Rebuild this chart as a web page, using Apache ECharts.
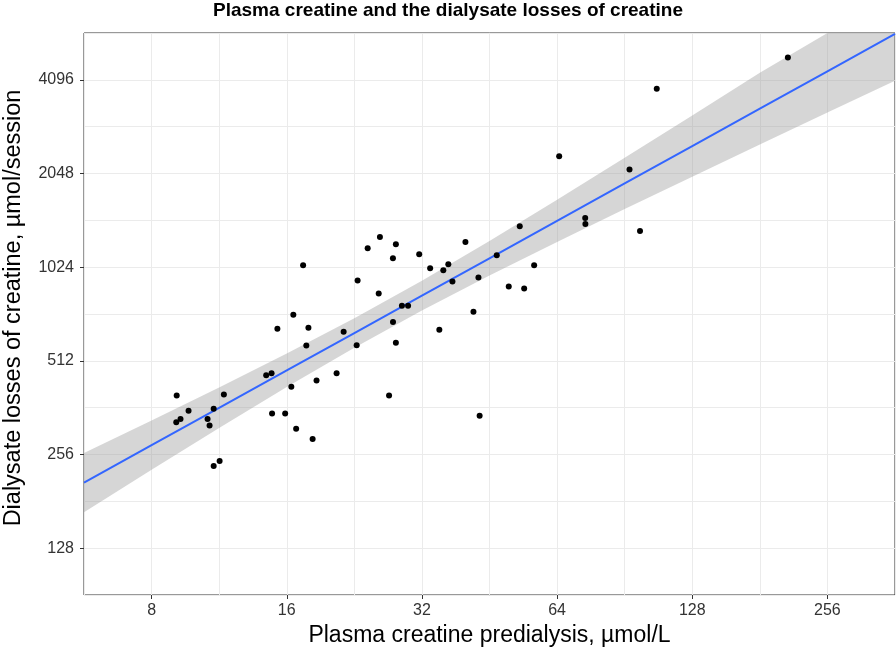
<!DOCTYPE html>
<html>
<head>
<meta charset="utf-8">
<script src="https://cdn.jsdelivr.net/npm/echarts@6/dist/echarts.min.js"></script>
<style>
html,body{margin:0;padding:0;background:#fff;}
#chart{width:896px;height:657px;}
</style>
</head>
<body>
<div id="chart"></div>
<script>
// Tick labels (log2 scale on both axes)
const xTickVals = [8, 16, 32, 64, 128, 256];
const yTickVals = [128, 256, 512, 1024, 2048, 4096];

// Observed data: plasma creatine predialysis (µmol/L) and dialysate losses (µmol/session)
const plasma = [9.10, 9.08, 9.28, 9.67, 10.66, 10.77, 11.0, 11.59, 11.0, 11.34,
  14.40, 14.80, 16.38, 14.84, 15.87, 16.79, 18.27, 18.64, 20.66, 15.25,
  16.55, 17.40, 17.88, 17.69, 21.42, 22.90, 23.01, 24.23, 25.80, 28.00,
  27.58, 25.64, 28.88, 29.81, 27.59, 28.00, 27.04, 31.56, 33.38, 35.71,
  36.64, 37.42, 34.99, 40.0, 42.76, 46.97, 52.85, 56.90, 49.95, 54.06,
  41.68, 43.02, 64.69, 73.93, 74.0, 92.79, 97.92, 106.7, 209.0];
const losses = [396, 325, 333, 354, 333, 317, 359, 399, 235, 244,
  460, 467, 423, 347, 347, 310, 287, 443, 467, 649,
  720, 1038, 654, 574, 635, 575, 928, 1177, 1280, 1213,
  1093, 842, 770, 770, 683, 585, 396, 1126, 1015, 1000,
  1046, 921, 644, 1234, 949, 1118, 1386, 1038, 888, 875,
  736, 341, 2325, 1474, 1410, 2111, 1338, 3831, 4833];

// Fitted regression line and its 95% confidence band
const fitX = [5.657, 8, 11.31, 16, 22.63, 32, 45.25, 64, 90.51, 128, 181.02, 256, 362.04];
const fitY = [207.9, 274.2, 361.8, 477.1, 629.0, 829.4, 1093.6, 1442.1, 1902.9, 2509.2, 3308.9, 4362.7, 5752.4];
const fitLower = [167.0, 228.5, 311.5, 421.7, 563.8, 742.4, 962.1, 1233.9, 1573.8, 2000.3, 2537.2, 3213.8, 4067.8];
const fitUpper = [258.8, 329.0, 420.2, 540.1, 701.8, 926.8, 1243.3, 1685.6, 2300.9, 3147.5, 4314.7, 5922.8, 8135.5];

const L = Math.log2;
const chart = echarts.init(document.getElementById('chart'), null, {renderer: 'canvas'});

const tickStyle = {show: true, length: 4, lineStyle: {color: '#333', width: 1}};
const labelFont = {fontFamily: 'Liberation Sans', fontSize: 16, color: '#333'};
const gridLine = {show: true, lineStyle: {color: '#EBEBEB', width: 1}};

const xRange = {min: 2.5, max: 8.5};
const yRange = {min: 6.5, max: 12.5};

const option = {
  backgroundColor: '#ffffff',
  animation: false,
  title: {
    text: 'Plasma creatine and the dialysate losses of creatine',
    left: 'center',
    top: 0,
    padding: [1, 0, 0, 0],
    textStyle: {fontFamily: 'Liberation Sans', fontWeight: 'bold', fontSize: 19, color: '#000'}
  },
  grid: {
    left: 84, right: 1, top: 33, bottom: 62,
    containLabel: false,
    outerBoundsMode: 'none',
    show: true, borderColor: '#333', borderWidth: 1, backgroundColor: '#fff'
  },
  xAxis: [{
    type: 'value',
    min: xRange.min, max: xRange.max, interval: 0.5,
    position: 'bottom',
    axisLine: {show: false},
    axisTick: Object.assign({customValues: xTickVals.map(L)}, tickStyle),
    axisLabel: Object.assign({
      customValues: xTickVals.map(L),
      margin: 8,
      formatter: v => String(Math.round(Math.pow(2, v)))
    }, labelFont),
    splitLine: {show: false},
    name: 'Plasma creatine predialysis, µmol/L',
    nameLocation: 'middle',
    nameGap: 25,
    nameTextStyle: {fontFamily: 'Liberation Sans', fontSize: 23, color: '#000'},
    z: 5
  }, {
    type: 'value',
    min: xRange.min, max: xRange.max, interval: 0.5,
    position: 'bottom',
    axisLine: {show: false}, axisTick: {show: false}, axisLabel: {show: false},
    splitLine: gridLine,
    z: 0
  }],
  yAxis: [{
    type: 'value',
    min: yRange.min, max: yRange.max, interval: 0.5,
    position: 'left',
    axisLine: {show: false},
    axisTick: Object.assign({customValues: yTickVals.map(L)}, tickStyle),
    axisLabel: Object.assign({
      customValues: yTickVals.map(L),
      margin: 10,
      formatter: v => String(Math.round(Math.pow(2, v)))
    }, labelFont),
    splitLine: {show: false},
    name: 'Dialysate losses of creatine, µmol/session',
    nameLocation: 'middle',
    nameGap: 58,
    nameTextStyle: {fontFamily: 'Liberation Sans', fontSize: 23.5, color: '#000', padding: [0, 0, 0, 12]},
    z: 5
  }, {
    type: 'value',
    min: yRange.min, max: yRange.max, interval: 0.5,
    position: 'left',
    axisLine: {show: false}, axisTick: {show: false}, axisLabel: {show: false},
    splitLine: gridLine,
    z: 0
  }],
  series: [
    {
      type: 'custom',
      name: 'band',
      silent: true,
      z: 1,
      xAxisIndex: 0, yAxisIndex: 0,
      data: fitX.map((x, i) => [L(x), L(fitLower[i]), L(fitUpper[i])]),
      encode: {x: 0, y: [1, 2]},
      renderItem: function (params, api) {
        if (params.dataIndex !== 0) return null;
        const up = fitX.map((x, i) => api.coord([L(x), L(fitUpper[i])]));
        const lo = fitX.map((x, i) => api.coord([L(x), L(fitLower[i])])).reverse();
        const cs = params.coordSys;
        const pts = echarts.graphic.clipPointsByRect(up.concat(lo),
          {x: cs.x, y: cs.y, width: cs.width, height: cs.height});
        return {
          type: 'polygon',
          shape: {points: pts},
          style: {fill: 'rgba(153,153,153,0.4)', stroke: null}
        };
      }
    },
    {
      type: 'line',
      name: 'fit',
      z: 2,
      xAxisIndex: 0, yAxisIndex: 0,
      symbol: 'none',
      silent: true,
      lineStyle: {color: '#3366FF', width: 2},
      data: fitX.map((x, i) => [L(x), L(fitY[i])])
    },
    {
      type: 'scatter',
      name: 'patients',
      z: 3,
      xAxisIndex: 0, yAxisIndex: 0,
      symbolSize: 6,
      itemStyle: {color: '#000', opacity: 1},
      data: plasma.map((x, i) => [L(x), L(losses[i])])
    }
  ]
};
chart.setOption(option);
</script>
</body>
</html>
